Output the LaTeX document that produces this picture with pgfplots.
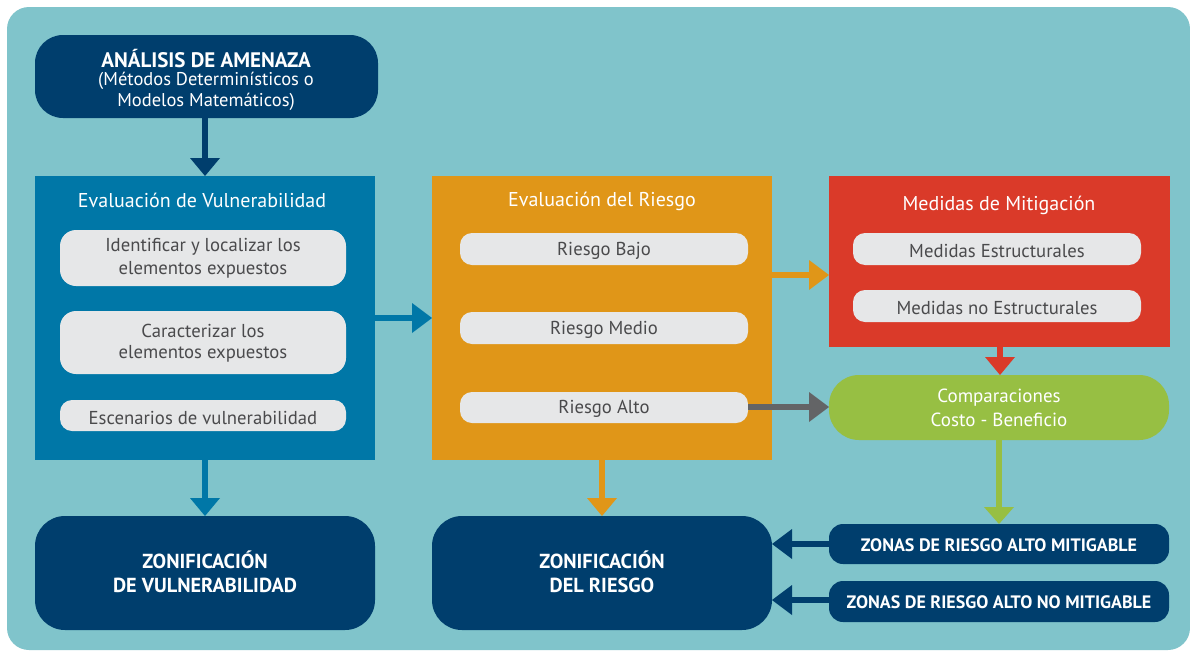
\documentclass[border=0pt]{standalone}
\usepackage{pgfplots}
\pgfplotsset{compat=1.18}
\usepackage{fontspec}
\setmainfont{PT Sans}
\definecolor{bgc}{HTML}{80C4CB}
\definecolor{navy}{HTML}{003E6D}
\definecolor{blu}{HTML}{0077A7}
\definecolor{org}{HTML}{E09618}
\definecolor{rd}{HTML}{DA3A29}
\definecolor{grn}{HTML}{97BF43}
\definecolor{lg}{HTML}{E6E7E8}
\definecolor{dtxt}{HTML}{4A4A4C}
\definecolor{garr}{HTML}{636466}
\newcommand{\fs}[1]{\fontsize{#1}{#1}\selectfont}
\begin{document}
\begin{tikzpicture}[every node/.append style={yshift=-1.5pt}]
\begin{axis}[
  scale only axis, width=1190pt, height=653pt,
  xmin=0, xmax=1190, ymin=0, ymax=653, y dir=reverse,
  hide axis, clip=true]
% background
\fill[white] (0,0) rectangle (1190,653);
\fill[bgc, rounded corners=22pt] (7,7) rectangle (1190,650);
% top box
\fill[navy, rounded corners=28pt] (35,35) rectangle (378,118);
\node[text=white, font=\bfseries\fs{21}] at (206,57) {ANÁLISIS DE AMENAZA};
\node[text=white, font=\fs{18.5}] at (206,79) {(Métodos Determinísticos o};
\node[text=white, font=\fs{18.5}] at (206,100) {Modelos Matemáticos)};
% arrows
\fill[navy] (202,118) rectangle (208,158);
\fill[navy] (190,158) -- (220,158) -- (205,176) -- cycle;
% vulnerability
\fill[blu] (35,176) rectangle (375,460);
\node[text=white, font=\fs{20}] at (202,199) {Evaluación de Vulnerabilidad};
\fill[lg, rounded corners=16pt] (60,230) rectangle (346,286);
\node[text=dtxt, font=\fs{18.7}] at (203,245) {Identificar y localizar los};
\node[text=dtxt, font=\fs{18.7}] at (203,268) {elementos expuestos};
\fill[lg, rounded corners=16pt] (60,311) rectangle (346,374);
\node[text=dtxt, font=\fs{18.7}] at (203,329) {Caracterizar los};
\node[text=dtxt, font=\fs{18.7}] at (203,352) {elementos expuestos};
\fill[lg, rounded corners=12pt] (60,400) rectangle (346,431);
\node[text=dtxt, font=\fs{18.7}] at (203,416) {Escenarios de vulnerabilidad};
\fill[blu] (375,315) rectangle (412,321);
\fill[blu] (412,303) -- (412,333) -- (432,318) -- cycle;
% risk
\fill[org] (432,176) rectangle (772,460);
\node[text=white, font=\fs{20}] at (602,200) {Evaluación del Riesgo};
\fill[lg, rounded corners=12pt] (460,233) rectangle (748,265);
\node[text=dtxt, font=\fs{18.7}] at (604,249) {Riesgo Bajo};
\fill[lg, rounded corners=12pt] (460,312) rectangle (748,344);
\node[text=dtxt, font=\fs{18.7}] at (604,328) {Riesgo Medio};
\fill[lg, rounded corners=12pt] (460,392) rectangle (748,423);
\node[text=dtxt, font=\fs{18.7}] at (604,407) {Riesgo Alto};
\fill[org] (772,272) rectangle (809,278);
\fill[org] (809,260) -- (809,290) -- (829,275) -- cycle;
\fill[garr] (748,404) rectangle (809,410);
\fill[garr] (809,392) -- (809,422) -- (829,407) -- cycle;
% mitigation
\fill[rd] (829,176) rectangle (1170,347);
\node[text=white, font=\fs{20}] at (999,204) {Medidas de Mitigación};
\fill[lg, rounded corners=12pt] (853,233) rectangle (1141,265);
\node[text=dtxt, font=\fs{18.7}] at (997,249) {Medidas Estructurales};
\fill[lg, rounded corners=12pt] (853,290) rectangle (1141,322);
\node[text=dtxt, font=\fs{18.7}] at (997,306) {Medidas no Estructurales};
\fill[rd] (997,347) rectangle (1003,357);
\fill[rd] (985,357) -- (1015,357) -- (1000,375) -- cycle;
% comparisons
\fill[grn, rounded corners=30pt] (829,375) rectangle (1169,440);
\node[text=white, font=\fs{19}] at (999,396) {Comparaciones};
\node[text=white, font=\fs{19}] at (999,418) {Costo - Beneficio};
\fill[grn] (996,440) rectangle (1002,507);
\fill[grn] (984,507) -- (1014,507) -- (999,524) -- cycle;
% zonas
\fill[navy, rounded corners=14pt] (829,524) rectangle (1169,564);
\node[text=white, font=\bfseries\fs{18}] at (999,544) {ZONAS DE RIESGO ALTO MITIGABLE};
\fill[navy, rounded corners=14pt] (829,581) rectangle (1169,622);
\node[text=white, font=\bfseries\fs{18}] at (999,601) {ZONAS DE RIESGO ALTO NO MITIGABLE};
\fill[navy] (792,541) rectangle (829,547);
\fill[navy] (792,529) -- (792,559) -- (772,544) -- cycle;
\fill[navy] (792,597) rectangle (829,603);
\fill[navy] (792,585) -- (792,615) -- (772,600) -- cycle;
% bottom arrows
\fill[blu] (202,460) rectangle (208,498);
\fill[blu] (190,498) -- (220,498) -- (205,516) -- cycle;
\fill[org] (599,460) rectangle (605,498);
\fill[org] (587,498) -- (617,498) -- (602,516) -- cycle;
% zonificacion
\fill[navy, rounded corners=30pt] (35,516) rectangle (375,630);
\node[text=white, font=\bfseries\fs{20.3}] at (205,558) {ZONIFICACIÓN};
\node[text=white, font=\bfseries\fs{20.3}] at (205,584) {DE VULNERABILIDAD};
\fill[navy, rounded corners=30pt] (432,516) rectangle (772,630);
\node[text=white, font=\bfseries\fs{20.3}] at (602,558) {ZONIFICACIÓN};
\node[text=white, font=\bfseries\fs{20.3}] at (602,584) {DEL RIESGO};
\end{axis}
\end{tikzpicture}
\end{document}
